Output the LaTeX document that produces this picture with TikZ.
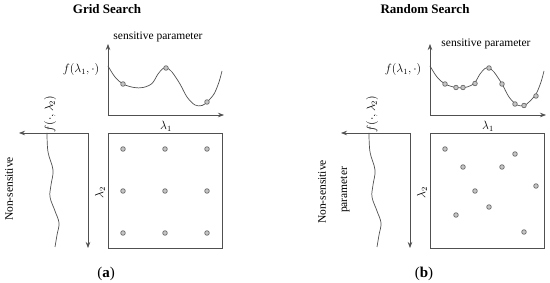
\documentclass[tikz,border=0pt]{standalone}
\usepackage{fontspec}
\setmainfont{Liberation Serif}
\usetikzlibrary{arrows.meta}
\definecolor{linegray}{HTML}{505050}
\definecolor{dotdraw}{HTML}{6A6A6A}
\definecolor{dotfill}{HTML}{C4C4C4}
\newcommand\drawpanel[2]{%
\begin{scope}[shift={(#2,0)}]
  \coordinate (#1o) at (108,115);
  \coordinate (#1yt) at (108,44);
  \coordinate (#1xt) at (224,115);
  \draw[axis] (#1o) -- (#1yt);
  \draw[axis] (#1o) -- (#1xt);
  \draw[ln] plot[smooth, tension=0.55] coordinates {(108,66) (115,77) (123,84) (134,87.5) (143,87.5) (152,83.5) (158,74) (163,68.5) (167,68) (172,72) (180,84) (187,97) (195,105) (202,105.5) (207,102) (214,94) (219,82) (222,71)};
  \node[txt] (#1fl) at (81,70) {$f(\lambda_1,\cdot)$};
  \node[txt] (#1l1) at (166,126) {$\lambda_1$};
  \node[ln, draw, rectangle, minimum width=114pt, minimum height=115pt, inner sep=0pt] (#1sq) at (165,190.5) {};
  \coordinate (#1c) at (88,133);
  \coordinate (#1lx) at (19,133);
  \coordinate (#1ly) at (88,248);
  \draw[axis] (#1c) -- (#1lx);
  \draw[axis] (#1c) -- (#1ly);
  \draw[ln] plot[smooth, tension=0.6] coordinates {(47,133) (48,152) (53,170) (51,185) (50,197) (55,211) (59,223) (57,235) (55,247)};
  \node[txt, rotate=90] (#1f2) at (50,114) {$f(\cdot,\lambda_2)$};
  \node[txt, rotate=90] (#1l2) at (100,193) {$\lambda_2$};
\end{scope}}
\begin{document}
\begin{tikzpicture}[x=1pt,y=-1pt,
  ln/.style={draw=linegray, line width=0.7pt},
  axis/.style={ln, -{Stealth[length=6pt,width=4.5pt]}},
  dot/.style={circle, draw=dotdraw, fill=dotfill, line width=0.7pt, inner sep=0pt, minimum size=4.6pt},
  txt/.style={font=\fontsize{11.5}{13}\selectfont, inner sep=0pt},
  sublabel/.style={font=\fontsize{15}{17}\selectfont, inner sep=0pt},
  ttl/.style={font=\fontsize{13}{15}\selectfont\bfseries, inner sep=0pt}]
\useasboundingbox (0,0) rectangle (550,283);
\drawpanel{a}{0}
\drawpanel{b}{322}
% left panel texts
\node[ttl] (t1) at (107,9) {Grid Search};
\node[txt] (s1) at (158,37) {sensitive parameter};
\node[txt, rotate=90] (n1) at (9,189) {Non-sensitive};
\node[sublabel] (ca) at (106,274) {(\textbf{a})};
% grid dots
\foreach \i/\x in {1/123,2/165,3/207}
  \foreach \j/\y in {1/149,2/191,3/233}
    \node[dot] (g\i\j) at (\x,\y) {};
% left curve dots
\node[dot] (ca1) at (123,84) {};
\node[dot] (ca2) at (166,68) {};
\node[dot] (ca3) at (207,102) {};
% right panel texts
\node[ttl] (t2) at (425,9) {Random Search};
\node[txt] (s2) at (486,44) {sensitive parameter};
\node[txt, rotate=90] (n2) at (322,192) {Non-sensitive};
\node[txt, rotate=90] (p2) at (345,190) {parameter};
\node[sublabel] (cb) at (424,274) {(\textbf{b})};
% random dots
\node[dot] (r1) at (445,149) {};
\node[dot] (r2) at (463,167) {};
\node[dot] (r3) at (502,167) {};
\node[dot] (r4) at (515,154) {};
\node[dot] (r5) at (536,186) {};
\node[dot] (r6) at (475,191) {};
\node[dot] (r7) at (489,207) {};
\node[dot] (r8) at (456,215) {};
\node[dot] (r9) at (524,232) {};
% right curve dots
\node[dot] (cb1) at (445,84) {};
\node[dot] (cb2) at (456,87.5) {};
\node[dot] (cb3) at (463,87.5) {};
\node[dot] (cb4) at (475,83.5) {};
\node[dot] (cb5) at (489,68) {};
\node[dot] (cb6) at (502,84) {};
\node[dot] (cb7) at (515,104) {};
\node[dot] (cb8) at (524,105.5) {};
\node[dot] (cb9) at (536,96) {};
\end{tikzpicture}
\end{document}
